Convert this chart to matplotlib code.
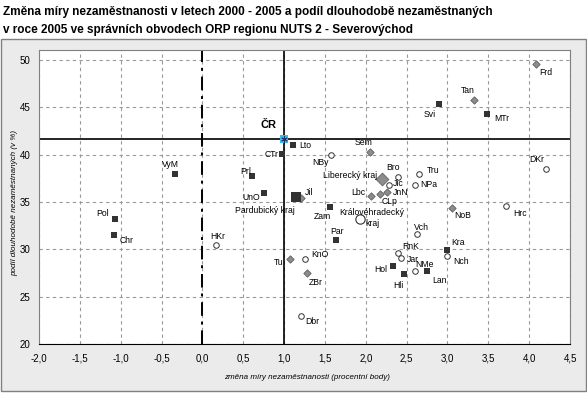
import matplotlib.pyplot as plt
from matplotlib.patches import Rectangle

# Pardubický kraj - okresy ORP (čtverečky)
sq_names = ['Lto', 'CTr', 'Prl', 'VyM', 'UnO', 'Pol', 'Chr', 'Svi', 'MTr', 'Zam',
            'Par', 'Kra', 'Hol', 'Hli', 'Lan']
sq_x = [1.11, 0.98, 0.61, -0.33, 0.75, -1.07, -1.08, 2.90, 3.49, 1.56,
        1.64, 3.00, 2.33, 2.47, 2.75]
sq_y = [41.0, 40.1, 37.7, 38.0, 35.9, 33.2, 31.5, 45.3, 44.3, 34.5,
        31.0, 29.9, 28.2, 27.4, 27.7]

# Liberecký kraj (kosočtverce)
di_names = ['Frd', 'Tan', 'Sem', 'Jil', 'Lbc', 'CLp', 'JnN', 'NoB', 'Tu', 'ZBr']
di_x = [4.08, 3.32, 2.05, 1.21, 2.06, 2.17, 2.26, 3.05, 1.07, 1.28]
di_y = [49.6, 45.8, 40.3, 35.4, 35.6, 35.8, 36.1, 34.4, 29.0, 27.5]

# Královéhradecký kraj (kroužky)
ci_names = ['NBy', 'Bro', 'Tru', 'Jic', 'NPa', 'Vch', 'RnK', 'Jar', 'NMe', 'Nch',
            'DKr', 'Hrc', 'HKr', 'KnO', 'Dbr']
ci_x = [1.57, 2.40, 2.65, 2.28, 2.60, 2.63, 2.40, 2.43, 2.60, 3.00,
        4.21, 3.72, 0.17, 1.26, 1.21]
ci_y = [40.0, 37.6, 38.0, 36.8, 36.8, 31.6, 29.6, 29.1, 27.7, 29.3,
        38.5, 34.6, 30.5, 29.0, 23.0]

# kraje
reg_names = ['Pardubický kraj', 'Liberecký kraj', 'Královéhradecký\nkraj']
reg_x = [1.14, 2.20, 1.93]
reg_y = [35.5, 37.4, 33.2]

cr_x = 1.0
cr_y = 41.7

x_ticks = [-2.0, -1.5, -1.0, -0.5, 0.0, 0.5, 1.0, 1.5, 2.0, 2.5, 3.0, 3.5, 4.0, 4.5]
y_ticks = [20, 25, 30, 35, 40, 45, 50]

# posun popisku od bodu v pixelech (doprava, dolu)
offsets = {
    'Lto': (12, 0), 'CTr': (-11, 1), 'Prl': (-7, -5), 'VyM': (-5, -9), 'UnO': (-12, 4),
    'Pol': (-12, -6), 'Chr': (12, 5), 'Svi': (-10, 10), 'MTr': (14, 5), 'Zam': (-7, 10),
    'Par': (1, -8), 'Kra': (11, -8), 'Hol': (-12, 3), 'Hli': (-6, 12), 'Lan': (12, 9),
    'Frd': (10, 9), 'Tan': (-6, -9), 'Sem': (-6, -9), 'Jil': (8, -6), 'Lbc': (-12, -4),
    'CLp': (10, 7), 'JnN': (14, 1), 'NoB': (11, 8), 'Tu': (-11, 4), 'ZBr': (9, 10),
    'NBy': (-10, 8), 'Bro': (-5, -10), 'Tru': (14, -3), 'Jic': (10, -1), 'NPa': (14, 0),
    'Vch': (4, -7), 'RnK': (12, -7), 'Jar': (12, 2), 'NMe': (10, -7), 'Nch': (14, 6),
    'DKr': (-10, -9), 'Hrc': (14, 8), 'HKr': (1, -8), 'KnO': (15, -4), 'Dbr': (11, 6),
    'Pardubický kraj': (-31, 13), 'Liberecký kraj': (-32, -4),
    'Královéhradecký\nkraj': (12, -1),
}

W, H = 587, 394
fig = plt.figure(figsize=(W / 100, H / 100), dpi=100)
fig.patch.set_facecolor('white')
fig.add_artist(Rectangle((1 / W, 3 / H), 585 / W, 352 / H, transform=fig.transFigure,
                         facecolor='#ebebeb', edgecolor='#808080', lw=1, zorder=0))

title_font = ['Liberation Sans Narrow', 'Liberation Sans', 'DejaVu Sans']
fig.text(3 / W, 1 - 12 / H, 'Změna míry nezaměstnanosti v letech 2000 - 2005 a podíl dlouhodobě nezaměstnaných',
         fontsize=8.5, fontweight='bold', family=title_font, va='center', ha='left')
fig.text(3 / W, 1 - 30 / H, 'v roce 2005 ve správních obvodech ORP regionu NUTS 2 - Severovýchod',
         fontsize=8.5, fontweight='bold', family=title_font, va='center', ha='left')

ax = fig.add_axes([39 / W, 1 - 344 / H, 531 / W, 294 / H])
ax.set_facecolor('white')
ax.set_xlim(-2.0, 4.5)
ax.set_ylim(20, 51.05)
ax.set_xticks(x_ticks)
ax.set_yticks(y_ticks)
ax.set_xticklabels([('%.1f' % t).replace('.', ',') for t in x_ticks], fontsize=7, family='Liberation Sans')
ax.set_yticklabels([str(t) for t in y_ticks], fontsize=7, family='Liberation Sans')
ax.tick_params(length=0, pad=6)
ax.tick_params(axis='x', pad=7)
for s in ['left', 'top', 'right']:
    ax.spines[s].set_color('#808080')
ax.spines['bottom'].set_color('black')

ax.grid(True, color='#999999', linestyle=(0, (3, 3)), lw=0.8)
ax.set_axisbelow(True)

ax.axvline(0.0, color='black', lw=1.4, linestyle=(0, (7, 3, 1.5, 3)), zorder=2)
ax.axvline(cr_x, color='black', lw=1.2, zorder=2)
ax.axhline(cr_y, color='black', lw=1.2, zorder=2)

ax.set_xlabel('změna míry nezaměstnanosti (procentní body)', fontsize=5.8, style='italic',
              family=title_font)
ax.set_ylabel('podíl dlouhodobě nezaměstnaných (v %)', fontsize=5.8, style='italic',
              family=title_font)
ax.xaxis.set_label_coords(0.505, -0.102)
ax.yaxis.set_label_coords(-0.04, 0.48)

ax.scatter(sq_x, sq_y, marker='s', s=22, color='#333333', zorder=4, linewidths=0)
ax.scatter(di_x, di_y, marker='D', s=14, color='#8c8c8c', edgecolor='#606060', lw=0.6, zorder=4)
ax.scatter(ci_x, ci_y, marker='o', s=16, facecolor='white', edgecolor='#333333', lw=0.7, zorder=4)

ax.scatter(reg_x[0], reg_y[0], marker='s', s=62, color='#333333', zorder=4, linewidths=0)
ax.scatter(reg_x[1], reg_y[1], marker='D', s=42, color='#8c8c8c', edgecolor='#606060', lw=0.6, zorder=4)
ax.scatter(reg_x[2], reg_y[2], marker='o', s=45, facecolor='white', edgecolor='#333333', lw=0.8, zorder=4)

ax.scatter(cr_x, cr_y, marker='s', s=38, color='#3cb8ea', zorder=5, linewidths=0)
ax.scatter(cr_x, cr_y, marker=(6, 2, 0), s=16, color='#1a3a6a', lw=0.7, zorder=6)
ax.annotate('ČR', (cr_x, cr_y), xytext=(-16, 14), textcoords='offset pixels',
            ha='center', va='center', fontsize=8, fontweight='bold', family='Liberation Sans')

all_names = sq_names + di_names + ci_names + reg_names
all_x = sq_x + di_x + ci_x + reg_x
all_y = sq_y + di_y + ci_y + reg_y
for name, x, y in zip(all_names, all_x, all_y):
    dx, dy = offsets[name]
    ax.annotate(name, (x, y), xytext=(dx, -dy), textcoords='offset pixels',
                ha='center', va='center', fontsize=6.2, family='Liberation Sans',
                linespacing=1.3, zorder=7)

fig.savefig('out.png', dpi=100, facecolor='white')
